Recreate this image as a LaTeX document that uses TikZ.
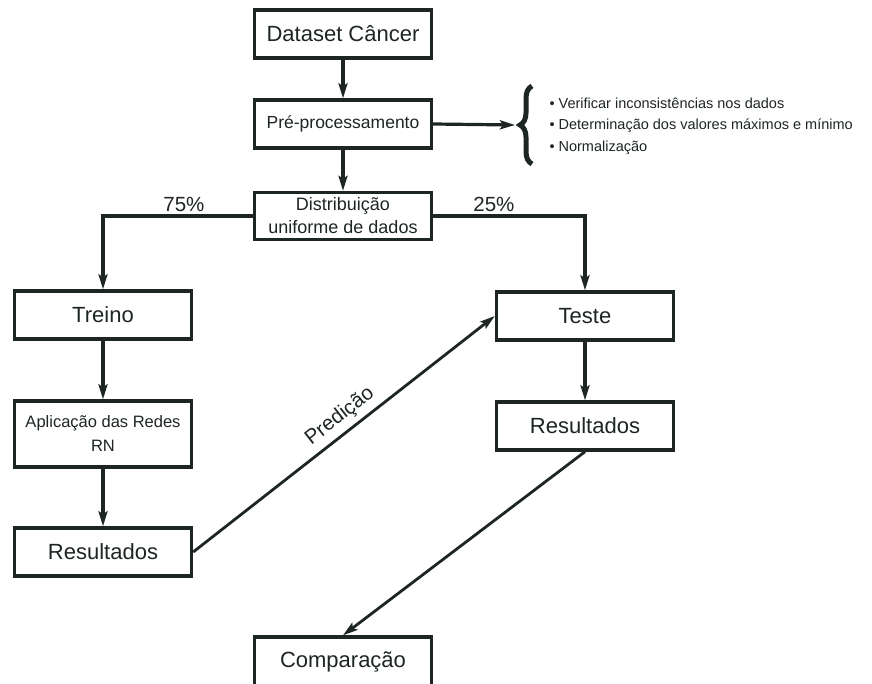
\documentclass[tikz,border=0pt]{standalone}
\usepackage{fontspec}
\setmainfont{Liberation Sans}
\usetikzlibrary{arrows.meta,decorations.pathreplacing}
\definecolor{ink}{RGB}{30,38,36}
\begin{document}
\begin{tikzpicture}[x=1pt,y=-1pt,
  box/.style={draw=ink,line width=3.4pt,text=ink,minimum width=177pt,minimum height=48pt,inner sep=2pt,align=center},
  big/.style={font=\fontsize{22}{25}\selectfont},
  arr/.style={draw=ink,line width=3.2pt,-{Stealth[length=15pt,width=9pt,inset=3pt]}},
  lbl/.style={text=ink,font=\fontsize{20.5}{24}\selectfont},
  small/.style={text=ink,font=\fontsize{14.5}{21.5}\selectfont,align=left}]
\useasboundingbox[fill=white] (0,0) rectangle (872,684);
\node[box,big] (ds) at (343,34) {Dataset Câncer};
\node[box,font=\fontsize{17.5}{21}\selectfont] (pp) at (343,124) {Pré-processamento};
\node[box,minimum height=47pt,font=\fontsize{18}{23}\selectfont] (dist) at (343,216) {Distribuição\\uniforme de dados};
\node[box,big] (tr) at (103,315) {Treino};
\node[box,minimum height=66pt,font=\fontsize{16.5}{24}\selectfont] (ap) at (103,434) {Aplicação das Redes\\RN};
\node[box,big] (rl) at (103,552) {Resultados};
\node[box,big] (te) at (585,316) {Teste};
\node[box,big] (rr) at (585,426) {Resultados};
\node[box,big,minimum height=50pt] (cp) at (343,662) {Comparação};
\coordinate (bt) at (515,125);
\draw[arr] (ds) -- (pp);
\draw[arr] (pp) -- (dist);
\draw[arr] (pp.east) -- (bt);
\draw[draw=ink,line width=5pt,decorate,decoration={brace,amplitude=12pt}] (532,164) -- (532,86);
\node[small,anchor=west] (lst) at (546,126) {\textbullet\ Verificar inconsistências nos dados\\\textbullet\ Determinação dos valores máximos e mínimo\\\textbullet\ Normalização};
\draw[arr] (dist.west) -| (tr.north) node[lbl,pos=0.23,above=-1pt] {75\%};
\draw[arr] (dist.east) -| (te.north) node[lbl,pos=0.2,above=-1pt] {25\%};
\draw[arr] (tr) -- (ap);
\draw[arr] (ap) -- (rl);
\draw[arr] (te) -- (rr);
\draw[arr,line width=2.8pt] (rl.east) -- (te.west) node[lbl,pos=0.52,sloped,above=2pt] {Predição};
\draw[arr,line width=2.8pt] (rr.south) -- (cp.north);
\end{tikzpicture}
\end{document}
